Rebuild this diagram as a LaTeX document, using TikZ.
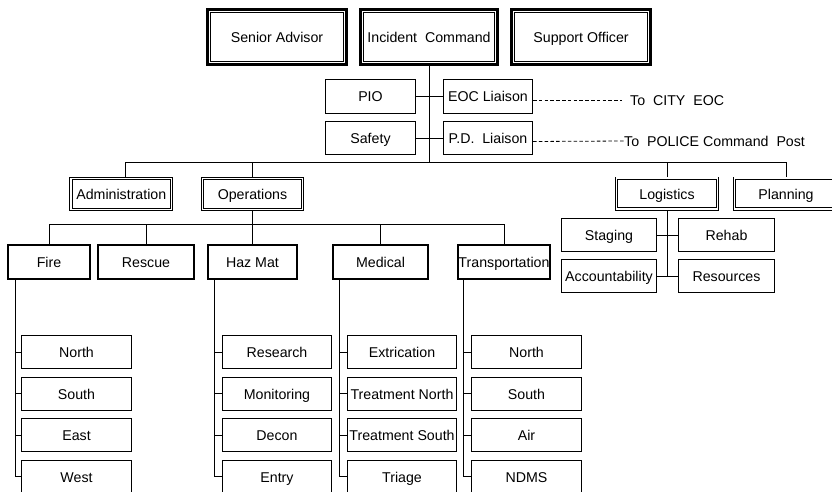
\documentclass[tikz,border=0pt]{standalone}
\usepackage{fontspec}
\setmainfont{Liberation Sans}
\usetikzlibrary{calc}

\tikzset{
  base/.style={rectangle, inner sep=0pt, align=center,
    font=\fontsize{14.2}{17}\selectfont, text height=11pt, text depth=0pt},
  % top command boxes: heavy outer rule with a thin inner rule
  cmdbox/.style={base, draw, line width=3pt, minimum height=55pt,
    path picture={\draw[line width=1pt]
      ([shift={(3.4pt,-3.4pt)}]path picture bounding box.north west) rectangle
      ([shift={(-3.4pt,3.4pt)}]path picture bounding box.south east);}},
  % section boxes: double thin rule
  secbox/.style={base, draw, line width=0.9pt, double, double distance=1.5pt,
    outer sep=1.65pt, minimum height=30.7pt},
  % branch boxes: heavy single rule
  brbox/.style={base, draw, line width=2.3pt, minimum height=33.7pt},
  % unit boxes: thin single rule
  unitbox/.style={base, draw, line width=0.9pt, minimum height=33.1pt},
  link/.style={line width=0.9pt},
  dashlink/.style={line width=0.8pt, dash pattern=on 3.5pt off 2.3pt},
  note/.style={base, anchor=west}
}

\begin{document}
\begin{tikzpicture}[x=1pt, y=-1pt]
\useasboundingbox (0,0) rectangle (832,492);
\clip (0,0) rectangle (832,492);

% command level
\node[cmdbox, minimum width=139pt] (sa) at (277,37) {Senior Advisor};
\node[cmdbox, minimum width=137pt] (ic) at (429,37) {Incident\ \ Command};
\node[cmdbox, minimum width=139pt] (so) at (581,37) {Support Officer};

% command staff
\node[unitbox, minimum width=90.1pt, minimum height=34.1pt] (pio) at (370.5,96.5) {PIO};
\node[unitbox, minimum width=89.1pt, minimum height=34.1pt] (eoc) at (488,96.5) {EOC Liaison};
\node[unitbox, minimum width=90.1pt] (saf) at (370.5,138) {Safety};
\node[unitbox, minimum width=89.1pt] (pd) at (488,138) {P.D.\ \ Liaison};

\node[note] (city) at (630,100) {To\ \ CITY\ \ EOC};
\node[note] (police) at (624,141) {To\ \ POLICE Command\ \ Post};

% sections
\node[secbox, minimum width=100.7pt] (adm) at (121.3,194) {Administration};
\node[secbox, minimum width=99.7pt] (ops) at (252.5,194) {Operations};
\node[secbox, minimum width=100.7pt] (log) at (667,193.5) {Logistics};
\node[secbox, minimum width=102.7pt] (pln) at (786,193.5) {Planning};

% logistics units
\node[unitbox, minimum width=95.1pt] (stg) at (609,235) {Staging};
\node[unitbox, minimum width=96.1pt] (reh) at (726.5,235) {Rehab};
\node[unitbox, minimum width=95.1pt] (acc) at (609,276) {Accountability};
\node[unitbox, minimum width=96.1pt] (res) at (726.5,276) {Resources};

% operations branches
\node[brbox, minimum width=81.7pt] (fire) at (49,262) {Fire};
\node[brbox, minimum width=95.7pt] (resc) at (146,262) {Rescue};
\node[brbox, minimum width=88.7pt] (haz) at (252.5,262) {Haz Mat};
\node[brbox, minimum width=94.7pt] (med) at (380.5,262) {Medical};
\node[brbox, minimum width=91.7pt] (trn) at (504,262) {Transportation};

% branch units
\foreach \nm/\cx/\bw/\uA/\uB/\uC/\uD in {
    fr/76.5/110.1/North/South/East/West,
    hz/277/109.1/Research/Monitoring/Decon/Entry,
    md/402/109.1/Extrication/Treatment North/Treatment South/Triage,
    tr/526.5/110.1/North/South/Air/NDMS}{
  \node[unitbox, minimum width=\bw pt] (\nm1) at (\cx,352) {\uA};
  \node[unitbox, minimum width=\bw pt] (\nm2) at (\cx,393.5) {\uB};
  \node[unitbox, minimum width=\bw pt] (\nm3) at (\cx,435) {\uC};
  \node[unitbox, minimum width=\bw pt] (\nm4) at (\cx,476.5) {\uD};
}

% bus lines
\coordinate (bus1) at (0,162);
\coordinate (bus2) at (0,224);

\draw[link] (ic.south) -- (ic.south |- bus1);
\draw[link] (pio.east) -- (eoc.west);
\draw[link] (saf.east) -- (pd.west);
\draw[dashlink] ([yshift=-3.5pt]eoc.east) -- ([xshift=-8pt]city.west);
\draw[dashlink] ([yshift=-3.5pt]pd.east) -- (police.west);

\coordinate (admtop) at ([xshift=4pt]adm.north);
\draw[link] (admtop) -- (admtop |- bus1) -- (pln.north |- bus1) -- (pln.north);
\draw[link] (ops.north) -- (ops.north |- bus1);
\draw[link] (log.north) -- (log.north |- bus1);

\draw[link] (log.south) -- (log.south |- acc.east);
\draw[link] (stg.east) -- (reh.west);
\draw[link] (acc.east) -- (res.west);

\draw[link] (fire.north) -- (fire.north |- bus2) -- (trn.north |- bus2) -- (trn.north);
\draw[link] (resc.north) -- (resc.north |- bus2);
\draw[link] (med.north) -- (med.north |- bus2);
\draw[link] (ops.south) -- (haz.north);

% branch spines
\coordinate (frline) at ([xshift=8pt]fire.south west);
\coordinate (hzline) at ([xshift=7pt]haz.south west);
\coordinate (mdline) at ([xshift=7pt]med.south west);
\coordinate (trline) at ([xshift=6pt]trn.south west);
\foreach \nm in {fr,hz,md,tr}{
  \draw[link] (\nm line) |- (\nm4.west);
  \foreach \k in {1,2,3}{
    \draw[link] (\nm\k.west) -- (\nm\k.west -| \nm line);
  }
}
\end{tikzpicture}
\end{document}
